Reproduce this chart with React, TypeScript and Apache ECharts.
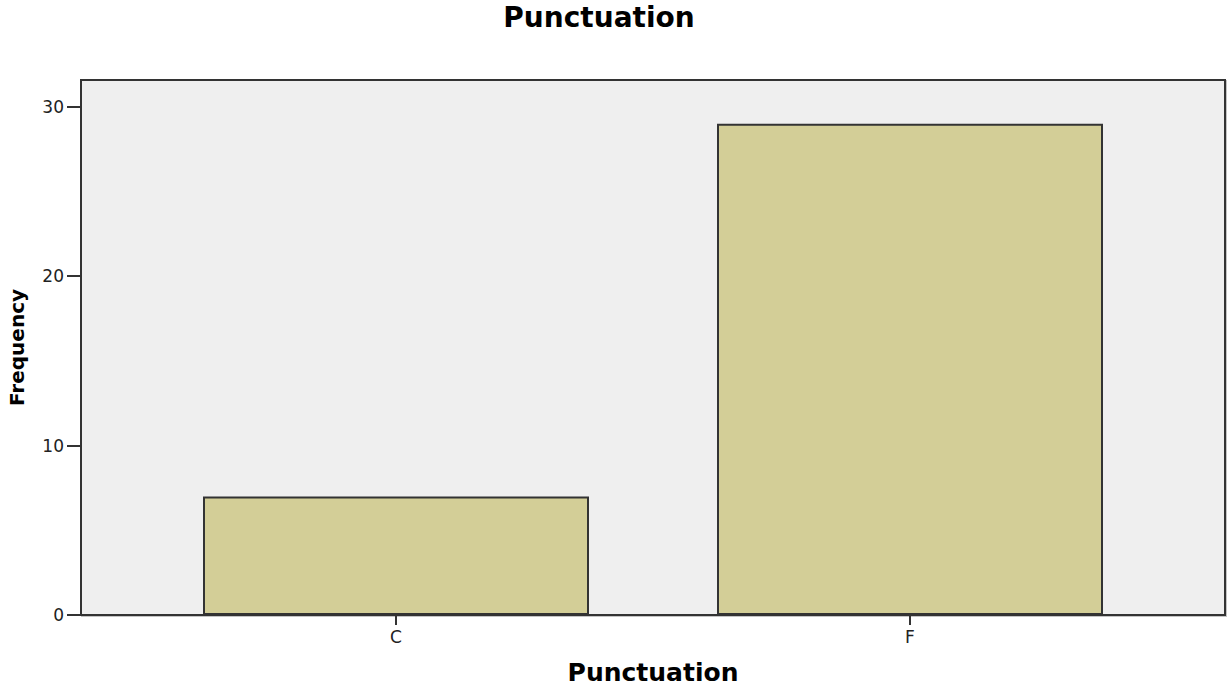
import React, { useEffect, useRef } from "react";
import * as echarts from "echarts";

const categories = ["C", "F"];
const frequencies = [7, 29];
const yTickValues = [0, 10, 20, 30];
const chartTitle = "Punctuation";
const xAxisTitle = "Punctuation";
const yAxisTitle = "Frequency";

export default function App() {
  const ref = useRef<HTMLDivElement>(null);
  useEffect(() => {
    if (!ref.current) return;
    const chart = echarts.init(ref.current, undefined, { renderer: "svg" });
    const font = "DejaVu Sans";
    const axisColor = "#333333";
    chart.setOption({
      animation: false,
      backgroundColor: "#ffffff",
      title: {
        text: chartTitle,
        left: 599,
        textAlign: "center",
        top: 3,
        padding: 0,
        textStyle: { fontFamily: font, fontSize: 28, fontWeight: "bold", color: "#000" },
      },
      graphic: [
        {
          type: "rect",
          z: -1,
          silent: true,
          shape: { x: 82, y: 81, width: 1144, height: 535 },
          style: { fill: "none", stroke: "#c4c4c4", lineWidth: 2 },
        },
        {
          type: "rect",
          z: -1,
          silent: true,
          shape: { x: 81, y: 80, width: 1144, height: 535 },
          style: { fill: "#efefef", stroke: axisColor, lineWidth: 2 },
        },
      ],
      grid: {
        left: 139,
        right: 61,
        top: 80,
        bottom: 73,
        containLabel: false,
        outerBoundsMode: "none",
      },
      xAxis: {
        type: "category",
        data: categories,
        axisLine: { show: true, lineStyle: { color: axisColor, width: 2 } },
        axisTick: { show: true, alignWithLabel: true, length: 10, lineStyle: { color: axisColor, width: 2 } },
        axisLabel: { margin: 13, fontSize: 17, fontFamily: font, color: "#222" },
        splitLine: { show: false },
        name: xAxisTitle,
        nameLocation: "middle",
        nameGap: 45,
        nameTextStyle: { fontFamily: font, fontSize: 25, fontWeight: "bold", color: "#000" },
      },
      yAxis: {
        type: "value",
        min: 0,
        max: 31.58,
        interval: 10,
        offset: 58,
        axisLine: { show: true, lineStyle: { color: axisColor, width: 2 } },
        axisTick: { show: true, length: 14, customValues: yTickValues, lineStyle: { color: axisColor, width: 2 } },
        axisLabel: { customValues: yTickValues, margin: 17, fontSize: 17, fontFamily: font, color: "#222" },
        splitLine: { show: false },
        name: yAxisTitle,
        nameLocation: "middle",
        nameGap: 54,
        nameRotate: 90,
        nameTextStyle: { fontFamily: font, fontSize: 20, fontWeight: "bold", color: "#000" },
      },
      series: [
        {
          type: "bar",
          data: frequencies,
          barWidth: 386,
          itemStyle: { color: "#d3ce97", borderColor: axisColor, borderWidth: 2 },
        },
      ],
    });
    return () => chart.dispose();
  }, []);
  return (
    <div
      ref={ref}
      style={{ position: "absolute", left: 0, top: 0, width: 1228, height: 688 }}
    />
  );
}
